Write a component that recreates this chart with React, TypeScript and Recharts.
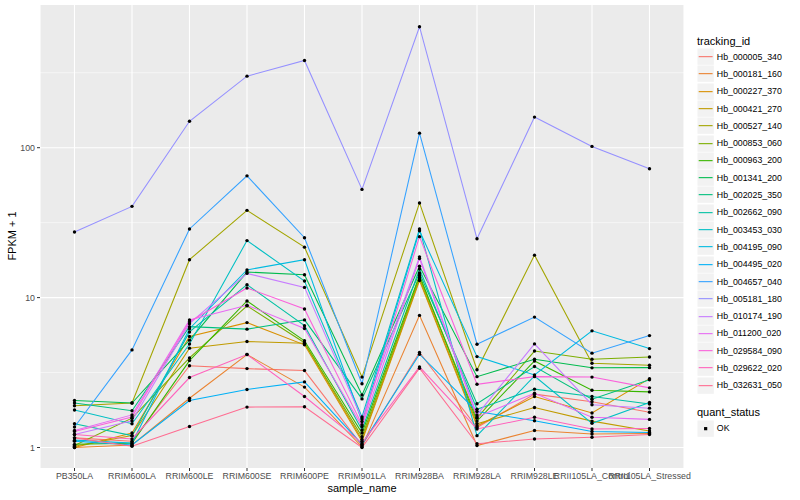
import React from 'react'
import { LineChart, Line, XAxis, YAxis, CartesianGrid } from 'recharts'

const categories = [
  'PB350LA', 'RRIM600LA', 'RRIM600LE', 'RRIM600SE', 'RRIM600PE', 'RRIM901LA',
  'RRIM928BA', 'RRIM928LA', 'RRIM928LE', 'RRII105LA_Control', 'RRII105LA_Stressed',
]

// FPKM + 1, one value per sample, in the order of categories
const hb_000005_340 = [1.16, 1.1, 3.51, 3.36, 3.26, 1.03, 4.3, 1.36, 2.27, 2.02, 1.72]
const hb_000181_160 = [1.0, 1.04, 2.13, 4.17, 2.53, 1.01, 7.61, 1.03, 1.3, 1.23, 1.24]
const hb_000227_370 = [1.0, 1.25, 5.5, 6.81, 4.84, 1.1, 13.0, 1.39, 2.19, 1.7, 2.88]
const hb_000421_270 = [1.02, 1.2, 4.6, 5.09, 4.96, 1.13, 13.3, 1.44, 1.85, 1.5, 1.29]
const hb_000527_140 = [1.9, 1.98, 17.9, 38.2, 21.7, 2.95, 42.8, 3.3, 19.2, 3.65, 3.54]
const hb_000853_060 = [1.03, 1.57, 3.96, 8.8, 5.0, 1.18, 13.7, 1.57, 4.4, 3.88, 4.02]
const hb_000963_200 = [1.05, 1.07, 3.8, 9.5, 5.15, 1.25, 14.1, 1.5, 3.78, 2.41, 2.35]
const hb_001341_200 = [2.06, 1.98, 5.2, 14.8, 14.2, 2.24, 16.2, 2.97, 3.88, 3.4, 3.41]
const hb_002025_350 = [1.98, 1.76, 6.4, 6.16, 7.1, 2.11, 14.6, 1.96, 3.47, 2.1, 2.83]
const hb_002662_090 = [1.44, 1.2, 5.9, 12.2, 6.5, 1.31, 15.5, 1.8, 2.45, 2.19, 1.95]
const hb_003453_030 = [1.78, 1.44, 4.9, 24.0, 12.9, 1.6, 28.7, 1.2, 3.0, 1.45, 2.0]
const hb_004195_090 = [1.12, 1.07, 6.2, 15.3, 17.9, 1.49, 27.9, 4.04, 3.05, 6.0, 4.57]
const hb_004495_020 = [1.1, 1.04, 2.06, 2.44, 2.74, 1.05, 4.19, 1.74, 1.51, 1.28, 1.26]
const hb_004657_040 = [1.37, 4.48, 28.7, 64.9, 25.1, 2.66, 125, 4.89, 7.41, 4.26, 5.58]
const hb_005181_180 = [27.4, 40.6, 150, 300, 382, 52.7, 641, 24.7, 160, 102, 72.4]
const hb_010174_190 = [1.22, 1.51, 6.7, 14.5, 11.7, 1.55, 18.7, 1.65, 4.91, 1.93, 1.83]
const hb_011200_020 = [1.3, 1.65, 7.1, 8.9, 6.22, 1.38, 18.2, 1.6, 2.3, 1.59, 1.54]
const hb_029584_090 = [1.28, 1.6, 6.9, 11.6, 8.4, 1.42, 25.5, 2.64, 2.97, 2.95, 2.5]
const hb_029622_020 = [1.22, 1.14, 2.93, 4.17, 2.19, 1.07, 3.45, 1.33, 1.59, 1.33, 1.34]
const hb_032631_050 = [1.16, 1.02, 1.38, 1.86, 1.87, 1.0, 3.38, 1.06, 1.14, 1.17, 1.22]

const trackingIds = [
  'Hb_000005_340', 'Hb_000181_160', 'Hb_000227_370', 'Hb_000421_270', 'Hb_000527_140',
  'Hb_000853_060', 'Hb_000963_200', 'Hb_001341_200', 'Hb_002025_350', 'Hb_002662_090',
  'Hb_003453_030', 'Hb_004195_090', 'Hb_004495_020', 'Hb_004657_040', 'Hb_005181_180',
  'Hb_010174_190', 'Hb_011200_020', 'Hb_029584_090', 'Hb_029622_020', 'Hb_032631_050',
]
const seriesValues = [
  hb_000005_340, hb_000181_160, hb_000227_370, hb_000421_270, hb_000527_140,
  hb_000853_060, hb_000963_200, hb_001341_200, hb_002025_350, hb_002662_090,
  hb_003453_030, hb_004195_090, hb_004495_020, hb_004657_040, hb_005181_180,
  hb_010174_190, hb_011200_020, hb_029584_090, hb_029622_020, hb_032631_050,
]
const colors = [
  '#F8766D', '#EA8331', '#D89000', '#C09B00', '#A3A500', '#7CAE00', '#39B600', '#00BB4E',
  '#00BF7D', '#00C1A3', '#00BFC4', '#00BAE0', '#00B0F6', '#35A2FF', '#9590FF', '#C77CFF',
  '#E76BF3', '#FA62DB', '#FF62BC', '#FF6C91',
]

const majorTicks = [1, 10, 100]
const minorTicks = [3.1623, 31.623, 316.23]

const data = categories.map((c, i) => {
  const row: Record<string, number | string> = { sample: c }
  trackingIds.forEach((id, s) => { row[id] = seriesValues[s][i] })
  return row
})

const font = '"Liberation Sans", Arial, sans-serif'
const tickStyle = { fontSize: 8.8, fill: '#4D4D4D', fontFamily: font }

function KeyBox({ children }: { children: React.ReactNode }) {
  return (
    <svg width={17.3} height={17.3} style={{ display: 'block' }}>
      <rect x={0.5} y={0.5} width={16.3} height={16.3} fill="#F2F2F2" />
      {children}
    </svg>
  )
}

export default function App() {
  return (
    <div style={{ position: 'absolute', left: 0, top: 0, width: 800, height: 500, background: '#fff', fontFamily: font }}>
      <LineChart width={800} height={500} data={data} margin={{ top: 5, right: 116, bottom: 0, left: 0 }}>
        <CartesianGrid
          vertical={false}
          horizontalValues={minorTicks}
          fill="#EBEBEB"
          stroke="#fff"
          strokeWidth={0.55}
        />
        <CartesianGrid horizontalValues={majorTicks} stroke="#fff" strokeWidth={1.1} />
        <XAxis
          dataKey="sample"
          type="category"
          interval={0}
          padding={{ left: 34.5, right: 34.5 }}
          height={32}
          tick={tickStyle}
          tickSize={3}
          tickMargin={2}
          tickLine={{ stroke: '#333' }}
          axisLine={false}
        />
        <YAxis
          type="number"
          scale="log"
          domain={[0.73, 895]}
          allowDataOverflow
          ticks={majorTicks}
          width={40}
          tick={tickStyle}
          tickSize={3}
          tickMargin={2}
          tickLine={{ stroke: '#333' }}
          axisLine={false}
        />
        {trackingIds.map((id, s) => (
          <Line
            key={id}
            dataKey={id}
            type="linear"
            stroke={colors[s]}
            strokeWidth={1.07}
            dot={false}
            activeDot={false}
            isAnimationActive={false}
          />
        ))}
        {trackingIds.map((id) => (
          <Line
            key={id + '_pt'}
            dataKey={id}
            type="linear"
            stroke="none"
            dot={{ r: 1.7, fill: '#000', stroke: 'none' }}
            activeDot={false}
            legendType="none"
            isAnimationActive={false}
          />
        ))}
      </LineChart>

      <div style={{ position: 'absolute', left: 362, top: 488, transform: 'translate(-50%, -50%)', fontSize: 11, whiteSpace: 'nowrap' }}>
        sample_name
      </div>
      <div style={{ position: 'absolute', left: 12, top: 236, transform: 'translate(-50%, -50%) rotate(-90deg)', fontSize: 11, whiteSpace: 'nowrap' }}>
        FPKM + 1
      </div>

      <div style={{ position: 'absolute', left: 697, top: 41, transform: 'translateY(-50%)', fontSize: 11 }}>tracking_id</div>
      {trackingIds.map((id, s) => (
        <div key={id} style={{ position: 'absolute', left: 697, top: 48 + 17.3 * s, height: 17.3, display: 'flex', alignItems: 'center' }}>
          <KeyBox>
            <line x1={1.7} x2={15.6} y1={8.65} y2={8.65} stroke={colors[s]} strokeWidth={1.1} />
          </KeyBox>
          <span style={{ marginLeft: 2.5, fontSize: 8.8, color: '#000', whiteSpace: 'nowrap' }}>{id}</span>
        </div>
      ))}

      <div style={{ position: 'absolute', left: 697, top: 412, transform: 'translateY(-50%)', fontSize: 11 }}>quant_status</div>
      <div style={{ position: 'absolute', left: 697, top: 419.7, height: 17.3, display: 'flex', alignItems: 'center' }}>
        <KeyBox>
          <rect x={7.05} y={7.05} width={3.2} height={3.2} fill="#000" />
        </KeyBox>
        <span style={{ marginLeft: 2.5, fontSize: 8.8, color: '#000' }}>OK</span>
      </div>
    </div>
  )
}
